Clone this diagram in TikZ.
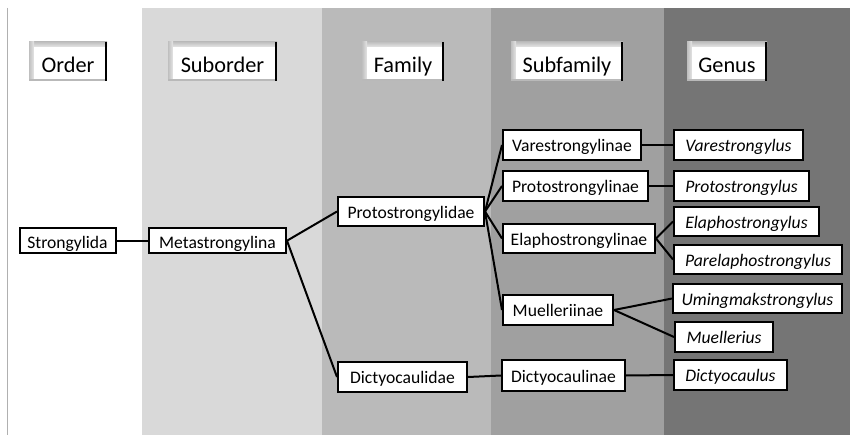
\documentclass[tikz,border=0pt]{standalone}
\usepackage{fontspec}
\setmainfont{Carlito}
\definecolor{bandB}{HTML}{D9D9D9}
\definecolor{bandC}{HTML}{BABABA}
\definecolor{bandD}{HTML}{A0A0A0}
\definecolor{bandE}{HTML}{757575}
\definecolor{bevel}{HTML}{D4D4D4}
\definecolor{edgeline}{HTML}{B0B0B0}
\tikzset{
  taxon/.style={draw=black, fill=white, line width=2pt, inner sep=0pt,
    text height=16.4pt, text depth=3pt,
    font=\fontsize{17.6}{20}\selectfont},
  lowtext/.style={text height=19pt, text depth=3pt},
  genus/.style={taxon, font=\fontsize{17.6}{20}\selectfont\itshape},
  link/.style={line width=2pt, black},
  rankbtn/.style={inner sep=0pt, minimum height=39pt,
    text height=25pt, text depth=2pt,
    font=\fontsize{22.3}{26}\selectfont,
    path picture={
      \fill[bevel] (path picture bounding box.south west) rectangle (path picture bounding box.north east);
      \shade[top color=bevel!75!gray, bottom color=bevel!60] ([yshift=-5pt]path picture bounding box.north west) rectangle (path picture bounding box.north east);
      \shade[left color=bevel!75!gray, right color=bevel!60] (path picture bounding box.south west) rectangle ([xshift=5pt]path picture bounding box.north west);
      \fill[white] ([shift={(5pt,-5pt)}]path picture bounding box.north west) rectangle ([shift={(-2pt,2.2pt)}]path picture bounding box.south east);
      \fill[black] ([xshift=-1.8pt]path picture bounding box.north east) rectangle (path picture bounding box.south east);
      \fill[gray!55] (path picture bounding box.south west) rectangle ([xshift=-1.8pt,yshift=1.4pt]path picture bounding box.south east);
    }},
}
\begin{document}
\begin{tikzpicture}[x=1pt, y=-1pt]
\useasboundingbox (0,0) rectangle (850,435);
% rank bands
\fill[white] (0,0) rectangle (850,435);
\fill[bandB] (142,8) rectangle (322,435);
\fill[bandC] (322,8) rectangle (491,435);
\fill[bandD] (491,8) rectangle (664,435);
\fill[bandE] (664,8) rectangle (850,435);
\draw[edgeline, line width=1pt] (7,8) -- (7,435);

% rank headings
\node[rankbtn, minimum width=78pt]  (hOrder)     at (68,61.4) {Order};
\node[rankbtn, minimum width=109pt] (hSuborder)  at (222.5,61.4) {Suborder};
\node[rankbtn, minimum width=82pt]  (hFamily)    at (403,61.4) {Family};
\node[rankbtn, minimum width=112pt] (hSubfamily) at (567,61.4) {Subfamily};
\node[rankbtn, minimum width=80pt]  (hGenus)     at (727,61.4) {Genus};

% order and suborder
\node[taxon, lowtext, minimum width=96pt,  minimum height=24.5pt] (strong) at (67.5,240.7) {Strongylida};
\node[taxon, lowtext, minimum width=137pt, minimum height=24.5pt] (meta)   at (217.5,240.7) {Metastrongylina};

% families
\node[taxon, minimum width=146pt, minimum height=29pt] (protoF) at (411,211.5) {Protostrongylidae};
\node[taxon, minimum width=129pt, minimum height=30pt] (dictF)  at (402.5,377) {Dictyocaulidae};

% subfamilies
\node[taxon, minimum width=138pt, minimum height=30pt] (vareS)  at (572,145) {Varestrongylinae};
\node[taxon, minimum width=145pt, minimum height=30pt] (protoS) at (575.5,186) {Protostrongylinae};
\node[taxon, minimum width=152pt, minimum height=29pt] (elapS)  at (579,238.5) {Elaphostrongylinae};
\node[taxon, minimum width=110pt, minimum height=30pt] (muelS)  at (558,310) {Muelleriinae};
\node[taxon, minimum width=123pt, minimum height=31pt] (dictS)  at (563.5,375.5) {Dictyocaulinae};

% genera
\node[genus, minimum width=129pt, minimum height=30pt] (vareG)  at (738.5,145) {Varestrongylus};
\node[genus, minimum width=135pt, minimum height=30pt] (protoG) at (741.5,186) {Protostrongylus};
\node[genus, minimum width=145pt, minimum height=29pt] (elapG)  at (746.5,221.5) {Elaphostrongylus};
\node[genus, minimum width=168pt, minimum height=29pt] (parG)   at (758,259.5) {Parelaphostrongylus};
\node[genus, minimum width=169pt, minimum height=29pt] (umiG)   at (757.5,298.5) {Umingmakstrongylus};
\node[genus, minimum width=98pt,  minimum height=30pt] (muelG)  at (724,337) {Muellerius};
\node[genus, minimum width=113pt, minimum height=30pt] (dictG)  at (730.5,375) {Dictyocaulus};

% connectors
\draw[link] (strong.east) -- (meta.west);
\draw[link] (meta.east) -- (protoF.west);
\draw[link] (meta.east) -- (dictF.west);
\draw[link] (protoF.east) -- (vareS.west);
\draw[link] (protoF.east) -- (protoS.west);
\draw[link] (protoF.east) -- (elapS.west);
\draw[link] (protoF.east) -- (muelS.west);
\draw[link] (dictF.east) -- (dictS.west);
\draw[link] (vareS.east) -- (vareG.west);
\draw[link] (protoS.east) -- (protoG.west);
\draw[link] (elapS.east) -- (elapG.west);
\draw[link] (elapS.east) -- (parG.west);
\draw[link] (muelS.east) -- (umiG.west);
\draw[link] (muelS.east) -- (muelG.west);
\draw[link] (dictS.east) -- (dictG.west);
\end{tikzpicture}
\end{document}
